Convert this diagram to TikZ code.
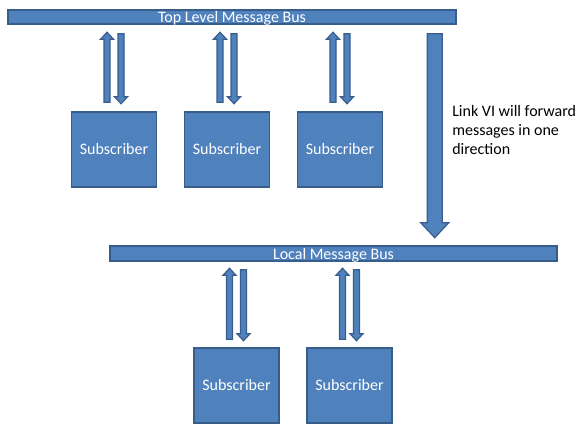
\documentclass[tikz,border=0pt]{standalone}
\usepackage{fontspec}
\setmainfont{Carlito}
\usetikzlibrary{calc,positioning}
\definecolor{officeBlue}{RGB}{79,129,189}
\definecolor{officeEdge}{RGB}{56,93,138}
\tikzset{
  bus node/.style={draw=officeEdge,fill=officeBlue,line width=1.1pt,text=white,font=\fontsize{12}{14}\selectfont,inner sep=0pt,text height=9.55pt,text depth=0.95pt},
  subscriber node/.style={draw=officeEdge,fill=officeBlue,line width=1.1pt,text=white,font=\fontsize{12}{14}\selectfont,minimum width=63.75pt,minimum height=56.25pt},
  block arrow body/.style={draw=officeEdge,fill=officeBlue,line width=0.9pt,line join=miter},
  pics/block arrow/.style n args={4}{code={
    \filldraw[block arrow body] (-#2,0) -- (-#2,{#1-#4}) -- (-#3,{#1-#4}) -- (0,#1) -- (#3,{#1-#4}) -- (#2,{#1-#4}) -- (#2,0) -- cycle;
  }}
}
\begin{document}
\begin{tikzpicture}[x=0.75pt,y=-0.75pt]
  \useasboundingbox (0,0) rectangle (586,432);
  \node[bus node,minimum width=336pt] (topbus) at (232,17) {Top Level Message Bus};
  \node[bus node,minimum width=335.25pt,text height=9.8pt,text depth=1.45pt] (localbus) at (333.5,253.5) {Local Message Bus};
  \node[subscriber node] (sub1) at (114,149.5) {Subscriber};
  \node[subscriber node,right=19.9pt of sub1] (sub2) {Subscriber};
  \node[subscriber node,right=19.9pt of sub2] (sub3) {Subscriber};
  \node[subscriber node] (sub4) at (236.5,385.5) {Subscriber};
  \node[subscriber node,right=19.9pt of sub4] (sub5) {Subscriber};
  \foreach \s in {sub1,sub2,sub3} {
    \pic[rotate=180] (up-\s) at ($(\s.north)+(-7,-9)$) {block arrow={70}{3}{6.5}{7}};
    \pic (down-\s) at ($(topbus.south -| \s.north)+(7,9)$) {block arrow={70}{3}{6.5}{7}};
  }
  \foreach \s in {sub4,sub5} {
    \pic[rotate=180] (up-\s) at ($(\s.north)+(-7,-8)$) {block arrow={71}{3}{6.5}{7}};
    \pic (down-\s) at ($(localbus.south -| \s.north)+(7,8)$) {block arrow={71}{3}{6.5}{7}};
  }
  \pic (link) at ($(topbus.south east)+(-22,9)$) {block arrow={204}{7.5}{14}{15}};
  \node[anchor=west,align=left,inner sep=0pt,font=\fontsize{12}{14}\selectfont] (note) at (452,130) {Link VI will forward\\messages in one\\direction};
\end{tikzpicture}
\end{document}
